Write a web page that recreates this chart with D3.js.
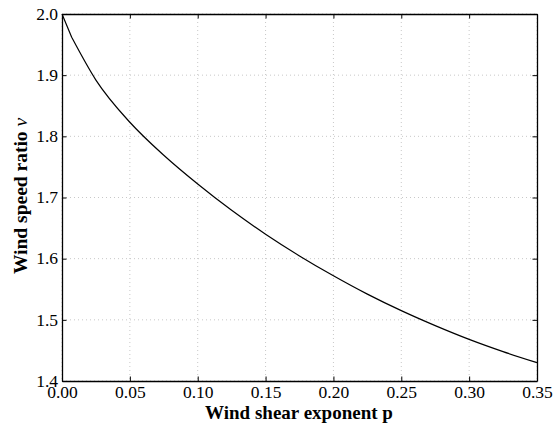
<!DOCTYPE html>
<html>
<head>
<meta charset="utf-8">
<script src="https://cdn.jsdelivr.net/npm/d3@7"></script>
<style>
  html, body { margin: 0; padding: 0; background: #fff; }
  svg { display: block; }
  text { font-family: "Liberation Serif", "DejaVu Serif", serif; fill: #000; }
</style>
</head>
<body>
<script>
// Data
const shearExponent = [0, 0.00714, 0.025, 0.05, 0.075, 0.1, 0.125, 0.15, 0.175, 0.2, 0.225, 0.25, 0.275, 0.3, 0.325, 0.35];
const speedRatio    = [2.0, 1.962, 1.892, 1.823, 1.769, 1.722, 1.679, 1.640, 1.6045, 1.572, 1.542, 1.515, 1.4905, 1.468, 1.448, 1.430];
const xTicks = [0, 0.05, 0.10, 0.15, 0.20, 0.25, 0.30, 0.35];
const yTicks = [1.4, 1.5, 1.6, 1.7, 1.8, 1.9, 2.0];
const xLabel = "Wind shear exponent p";
const yLabel = "Wind speed ratio ";
const yLabelSym = "ν";

(function () {
const W = 554, H = 426;
const m = { left: 62, right: W - 537, top: 14, bottom: H - 381 };

const svg = d3.select("body").append("svg").attr("width", W).attr("height", H);

const x = d3.scaleLinear().domain([0, 0.35]).range([m.left, W - m.right]);
const y = d3.scaleLinear().domain([1.4, 2.0]).range([H - m.bottom, m.top]);

// Grid
const grid = svg.append("g");
grid.selectAll("line.vx").data(xTicks).join("line").attr("class", "vx")
  .attr("x1", d => x(d)).attr("x2", d => x(d))
  .attr("y1", m.top).attr("y2", H - m.bottom)
  .attr("stroke", "#c8c8c8").attr("stroke-width", 1).attr("stroke-dasharray", "1,3");
grid.selectAll("line.hy").data(yTicks).join("line").attr("class", "hy")
  .attr("x1", m.left).attr("x2", W - m.right)
  .attr("y1", d => y(d)).attr("y2", d => y(d))
  .attr("stroke", "#c8c8c8").attr("stroke-width", 1).attr("stroke-dasharray", "1,3");

// Curve: first sampled segment straight, remainder smooth
const pts = shearExponent.map((p, i) => [p, speedRatio[i]]);
const lineLin = d3.line().x(d => x(d[0])).y(d => y(d[1]));
const lineSmooth = d3.line().x(d => x(d[0])).y(d => y(d[1])).curve(d3.curveMonotoneX);
svg.append("path")
  .attr("fill", "none").attr("stroke", "#000").attr("stroke-width", 1.2)
  .attr("stroke-linejoin", "round")
  .attr("d", lineLin(pts.slice(0, 2)) + lineSmooth(pts.slice(1)).replace(/^M/, "L"));

// Axes (ticks inward on all four sides)
const fmtX = d3.format(".2f"), fmtY = d3.format(".1f");
const tl = 4.5;
const gBottom = svg.append("g").attr("transform", `translate(0,${H - m.bottom})`)
  .call(d3.axisBottom(x).tickValues(xTicks).tickFormat(fmtX).tickSizeInner(-tl).tickSizeOuter(0).tickPadding(5));
const gTop = svg.append("g").attr("transform", `translate(0,${m.top})`)
  .call(d3.axisTop(x).tickValues(xTicks).tickFormat("").tickSizeInner(-tl).tickSizeOuter(0));
const gLeft = svg.append("g").attr("transform", `translate(${m.left},0)`)
  .call(d3.axisLeft(y).tickValues(yTicks).tickFormat(fmtY).tickSizeInner(-tl).tickSizeOuter(0).tickPadding(4));
const gRight = svg.append("g").attr("transform", `translate(${W - m.right},0)`)
  .call(d3.axisRight(y).tickValues(yTicks).tickFormat("").tickSizeInner(-tl).tickSizeOuter(0));

[gBottom, gTop, gLeft, gRight].forEach(g => {
  g.select(".domain").attr("stroke", "#000").attr("stroke-width", 1.3);
  g.selectAll(".tick line").attr("stroke", "#000").attr("stroke-width", 1);
  g.selectAll("text").attr("font-family", "Liberation Serif, DejaVu Serif, serif")
    .attr("font-size", 17.5).attr("fill", "#000");
});
gBottom.selectAll("text").attr("dy", "0.71em");
gLeft.selectAll("text").attr("dy", "0.3em");

// Axis labels
svg.append("text")
  .attr("x", 299).attr("y", 419)
  .attr("text-anchor", "middle").attr("font-size", 19).attr("font-weight", "bold")
  .text(xLabel);

const yl = svg.append("text")
  .attr("transform", `translate(27,196) rotate(-90)`)
  .attr("text-anchor", "middle").attr("font-size", 19.5).attr("font-weight", "bold");
yl.append("tspan").text(yLabel);
yl.append("tspan").attr("font-weight", "normal").attr("font-style", "italic").text(yLabelSym);
})();
</script>
</body>
</html>
